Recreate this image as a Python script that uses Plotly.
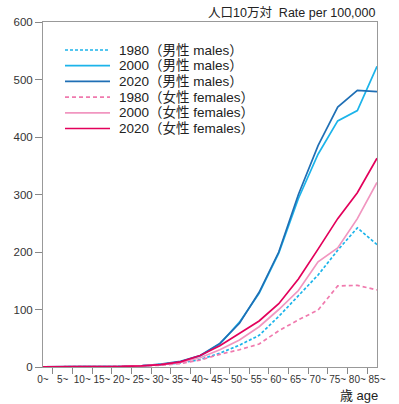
import plotly.graph_objects as go

ages = ["0~", "5~", "10~", "15~", "20~", "25~", "30~", "35~", "40~", "45~",
        "50~", "55~", "60~", "65~", "70~", "75~", "80~", "85~"]

male_1980 = [0.3, 0.2, 0.3, 0.5, 1, 2, 4, 7, 13, 24, 38, 55, 88, 124, 160, 203, 242, 213]
male_2000 = [0.3, 0.2, 0.3, 0.5, 1, 2, 4, 9, 19, 40, 78, 128, 198, 293, 370, 428, 446, 523]
male_2020 = [0.3, 0.2, 0.3, 0.5, 1, 2, 5, 10, 20, 41, 76, 130, 200, 300, 385, 452, 481, 479]
female_1980 = [0.3, 0.2, 0.3, 0.5, 1, 2, 3, 6, 12, 22, 30, 40, 63, 82, 99, 141, 142, 134]
female_2000 = [0.3, 0.2, 0.3, 0.5, 1, 2, 4, 8, 16, 30, 47, 70, 100, 133, 183, 207, 258, 321]
female_2020 = [0.3, 0.2, 0.3, 0.5, 1, 2, 4, 9, 20, 37, 58, 80, 110, 153, 205, 258, 303, 363]

y_ticks = [0, 100, 200, 300, 400, 500, 600]

series = [
    ("1980（男性 males）", male_1980, "#1cb4ea", "3px,2px"),
    ("2000（男性 males）", male_2000, "#1cb4ea", "solid"),
    ("2020（男性 males）", male_2020, "#1f6fb5", "solid"),
    ("1980（女性 females）", female_1980, "#f07aae", "4px,3px"),
    ("2000（女性 females）", female_2000, "#f196c0", "solid"),
    ("2020（女性 females）", female_2020, "#e3005b", "solid"),
]

W, H = 399, 404
L, R, T, B = 43, 22, 22, 37
pw, ph = W - L - R, H - T - B

def px2paper(x, y):
    return (x - L) / pw, (H - B - y) / ph

FONT = "Arial, 'Liberation Sans', 'Noto Sans CJK JP', sans-serif"

fig = go.Figure()
for name, vals, color, dash in series:
    fig.add_trace(go.Scatter(x=ages, y=vals, mode="lines", name=name,
                             line=dict(color=color, width=1.7, dash=dash),
                             showlegend=False))

shapes = []
annotations = []
for k, (name, vals, color, dash) in enumerate(series):
    ypx = 50 + k * 15.7
    x0, y0 = px2paper(65, ypx)
    x1, _ = px2paper(110, ypx)
    shapes.append(dict(type="line", xref="paper", yref="paper", x0=x0, x1=x1, y0=y0, y1=y0,
                       line=dict(color=color, width=1.7, dash=dash)))
    tx, ty = px2paper(117, ypx)
    annotations.append(dict(xref="paper", yref="paper", x=tx, y=ty, text=name, showarrow=False,
                            xanchor="left", yanchor="middle",
                            font=dict(family=FONT, size=13.5, color="#222")))

ax, ay = px2paper(377, 13)
annotations.append(dict(xref="paper", yref="paper", x=ax, y=ay, text="人口10万対  Rate per 100,000",
                        showarrow=False, xanchor="right", yanchor="middle",
                        font=dict(family=FONT, size=12.5, color="#222")))
bx, by = px2paper(380, 395)
annotations.append(dict(xref="paper", yref="paper", x=bx, y=by, text="歳 age",
                        showarrow=False, xanchor="right", yanchor="middle",
                        font=dict(family=FONT, size=13, color="#222")))

fig.update_layout(
    width=W, height=H,
    margin=dict(l=L, r=R, t=T, b=B, pad=0),
    paper_bgcolor="white", plot_bgcolor="white",
    showlegend=False,
    shapes=shapes, annotations=annotations,
    xaxis=dict(type="category", tickson="boundaries", ticks="outside", ticklen=6,
               tickcolor="#888", linecolor="#999", linewidth=1, mirror=True,
               showgrid=False, zeroline=False, tickangle=0, ticklabelstandoff=3,
               tickfont=dict(family=FONT, size=10, color="#333")),
    yaxis=dict(range=[0, 600], tickvals=y_ticks, ticks="outside", ticklen=7,
               tickcolor="#888", linecolor="#999", linewidth=1, mirror=True,
               showgrid=False, zeroline=False,
               tickfont=dict(family=FONT, size=11.5, color="#333")),
)

fig.write_html("out.html", config={"displayModeBar": False},
               post_script="document.body.style.margin='0';")
